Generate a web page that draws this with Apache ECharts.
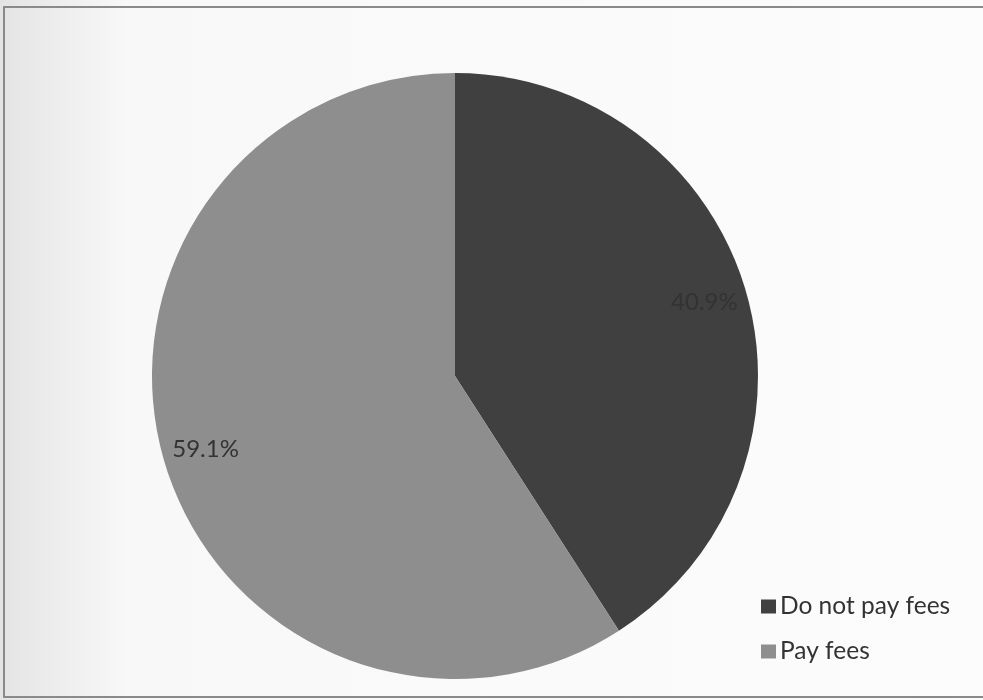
<!DOCTYPE html>
<html>
<head>
<meta charset="utf-8">
<script src="https://cdn.jsdelivr.net/npm/echarts@6/dist/echarts.min.js"></script>
<style>
  html, body { margin: 0; padding: 0; background: #ffffff; }
  #chart { width: 983px; height: 700px; }
</style>
</head>
<body>
<div id="chart"></div>
<script>
// Share of respondents by fee status (percent)
const categories = ['Do not pay fees', 'Pay fees'];
const shares = [40.9, 59.1];
const sliceColors = ['#404040', '#8e8e8e'];

const pieData = categories.map((name, i) => ({
  name: name,
  value: shares[i],
  itemStyle: { color: sliceColors[i] }
}));

const chart = echarts.init(document.getElementById('chart'), null, { renderer: 'canvas' });

chart.setOption({
  backgroundColor: {
    type: 'linear', x: 0, y: 0, x2: 1, y2: 0,
    colorStops: [
      { offset: 0, color: '#e4e4e4' },
      { offset: 0.13, color: '#f8f8f8' },
      { offset: 1, color: '#fcfcfc' }
    ]
  },
  animation: false,
  graphic: [
    {
      type: 'rect',
      shape: { x: 4, y: 7, width: 1000, height: 690 },
      style: { fill: 'none', stroke: '#8a8a8a', lineWidth: 2 },
      silent: true
    }
  ],
  legend: {
    orient: 'vertical',
    left: 756,
    top: 589,
    itemWidth: 15,
    itemHeight: 14,
    itemGap: 20,
    icon: 'rect',
    textStyle: { fontFamily: 'Lato', fontSize: 24.5, color: '#333333', padding: [0, 0, 0, -1] },
    data: categories.map((name, i) => ({ name: name, itemStyle: { color: sliceColors[i] } }))
  },
  series: [
    {
      type: 'pie',
      center: [455, 376],
      radius: [0, 303],
      startAngle: 90,
      clockwise: true,
      silent: true,
      label: { show: false },
      labelLine: { show: false },
      itemStyle: { borderWidth: 0 },
      emphasis: { disabled: true },
      data: pieData
    },
    {
      // transparent companion ring that carries the percentage labels further out
      type: 'pie',
      center: [455, 376],
      radius: [0, 514],
      startAngle: 90,
      clockwise: true,
      silent: true,
      z: 3,
      itemStyle: { color: 'rgba(0,0,0,0)', borderWidth: 0 },
      emphasis: { disabled: true },
      labelLine: { show: false },
      label: {
        show: true,
        position: 'inside',
        formatter: p => p.value.toFixed(1) + '%',
        fontFamily: 'Lato',
        fontSize: 24,
        color: '#333333'
      },
      data: categories.map((name, i) => ({ name: name, value: shares[i] }))
    }
  ]
});
</script>
</body>
</html>
